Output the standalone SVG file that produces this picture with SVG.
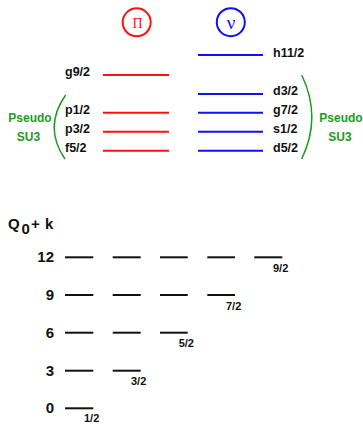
<svg xmlns="http://www.w3.org/2000/svg" width="363" height="424" viewBox="0 0 363 424">
  <style>
    .lvl-p { stroke: #ff1010; stroke-width: 2; }
    .lvl-n { stroke: #1010f0; stroke-width: 2; }
    .orb { font-family: "Liberation Sans", Arial, sans-serif; font-weight: bold; font-size: 12.5px; fill: #111; }
    .grn { font-family: "Liberation Sans", Arial, sans-serif; font-weight: bold; font-size: 12px; fill: #1f9a1f; text-anchor: middle; }
    .paren { fill: none; stroke: #1f9a1f; stroke-width: 1.5; }
    .bar { stroke: #111; stroke-width: 2; }
    .num { font-family: "Liberation Sans", Arial, sans-serif; font-weight: bold; font-size: 15px; fill: #111; text-anchor: end; }
    .k { font-family: "Liberation Sans", Arial, sans-serif; font-weight: bold; font-size: 11px; fill: #111; }
    .ax { font-family: "Liberation Sans", Arial, sans-serif; font-weight: bold; font-size: 15px; fill: #111; }
  </style>

  <!-- proton / neutron headers -->
  <g id="proton">
    <circle cx="136.7" cy="22.3" r="14" fill="none" stroke="#ff1010" stroke-width="2"/>
    <text x="137.5" y="27.7" font-family="Liberation Serif, serif" font-size="14" fill="#ff1010" text-anchor="middle">Π</text>
  </g>
  <g id="neutron">
    <circle cx="230.8" cy="22.2" r="14" fill="none" stroke="#1010f0" stroke-width="2"/>
    <text x="231" y="28.5" font-family="Liberation Serif, serif" font-size="19" fill="#1010f0" text-anchor="middle">ν</text>
  </g>

  <!-- proton single-particle levels -->
  <g id="proton-levels">
    <line class="lvl-p" x1="103" y1="75" x2="169" y2="75"/>
    <line class="lvl-p" x1="103" y1="112.7" x2="169" y2="112.7"/>
    <line class="lvl-p" x1="103" y1="131.7" x2="169" y2="131.7"/>
    <line class="lvl-p" x1="103" y1="150.7" x2="169" y2="150.7"/>
    <text class="orb" x="65" y="76">g9/2</text>
    <text class="orb" x="65" y="113.5">p1/2</text>
    <text class="orb" x="65" y="132.5">p3/2</text>
    <text class="orb" x="65" y="151.5">f5/2</text>
  </g>

  <!-- neutron single-particle levels -->
  <g id="neutron-levels">
    <line class="lvl-n" x1="198" y1="55" x2="263" y2="55"/>
    <line class="lvl-n" x1="198" y1="94" x2="263" y2="94"/>
    <line class="lvl-n" x1="198" y1="112.7" x2="263" y2="112.7"/>
    <line class="lvl-n" x1="198" y1="131.7" x2="263" y2="131.7"/>
    <line class="lvl-n" x1="198" y1="150.7" x2="263" y2="150.7"/>
    <text class="orb" x="273" y="56.5">h11/2</text>
    <text class="orb" x="273" y="94.5">d3/2</text>
    <text class="orb" x="273" y="113.5">g7/2</text>
    <text class="orb" x="273" y="132.5">s1/2</text>
    <text class="orb" x="273" y="151.5">d5/2</text>
  </g>

  <!-- pseudo-SU3 brackets -->
  <g id="pseudo-left">
    <path class="paren" d="M65.7 95 Q43 127 65 159"/>
    <text class="grn" x="30" y="122">Pseudo</text>
    <text class="grn" x="28.5" y="141">SU3</text>
  </g>
  <g id="pseudo-right">
    <path class="paren" d="M301.7 75 Q322 117 301.7 159"/>
    <text class="grn" x="341" y="122">Pseudo</text>
    <text class="grn" x="340" y="141">SU3</text>
  </g>

  <!-- Q0 + k axis label -->
  <g id="axis-label">
    <text class="ax" x="8" y="228.5">Q</text>
    <text class="ax" x="21.5" y="233.5">0</text>
    <text class="ax" x="31" y="228.5">+</text>
    <text class="ax" x="45" y="228.5">k</text>
  </g>

  <!-- band heads -->
  <g id="row-12">
    <text class="num" x="54" y="262">12</text>
    <line class="bar" x1="65" y1="257.3" x2="93.3" y2="257.3"/>
    <line class="bar" x1="112.7" y1="257.3" x2="140.7" y2="257.3"/>
    <line class="bar" x1="160" y1="257.3" x2="187.7" y2="257.3"/>
    <line class="bar" x1="207.3" y1="257.3" x2="235" y2="257.3"/>
    <line class="bar" x1="254.3" y1="257.3" x2="282.3" y2="257.3"/>
    <text class="k" x="273" y="271.5">9/2</text>
  </g>
  <g id="row-9">
    <text class="num" x="54" y="300">9</text>
    <line class="bar" x1="65" y1="295" x2="93.3" y2="295"/>
    <line class="bar" x1="112.7" y1="295" x2="140.7" y2="295"/>
    <line class="bar" x1="160" y1="295" x2="187.7" y2="295"/>
    <line class="bar" x1="207.3" y1="295" x2="235" y2="295"/>
    <text class="k" x="226" y="309.5">7/2</text>
  </g>
  <g id="row-6">
    <text class="num" x="54" y="337.7">6</text>
    <line class="bar" x1="65" y1="332.7" x2="93.3" y2="332.7"/>
    <line class="bar" x1="112.7" y1="332.7" x2="140.7" y2="332.7"/>
    <line class="bar" x1="160" y1="332.7" x2="187.7" y2="332.7"/>
    <text class="k" x="178.7" y="347">5/2</text>
  </g>
  <g id="row-3">
    <text class="num" x="54" y="375.7">3</text>
    <line class="bar" x1="65" y1="370.7" x2="93.3" y2="370.7"/>
    <line class="bar" x1="112.7" y1="370.7" x2="140.7" y2="370.7"/>
    <text class="k" x="131" y="385">3/2</text>
  </g>
  <g id="row-0">
    <text class="num" x="54" y="413.3">0</text>
    <line class="bar" x1="65" y1="408.3" x2="93.3" y2="408.3"/>
    <text class="k" x="84" y="422">1/2</text>
  </g>
</svg>
